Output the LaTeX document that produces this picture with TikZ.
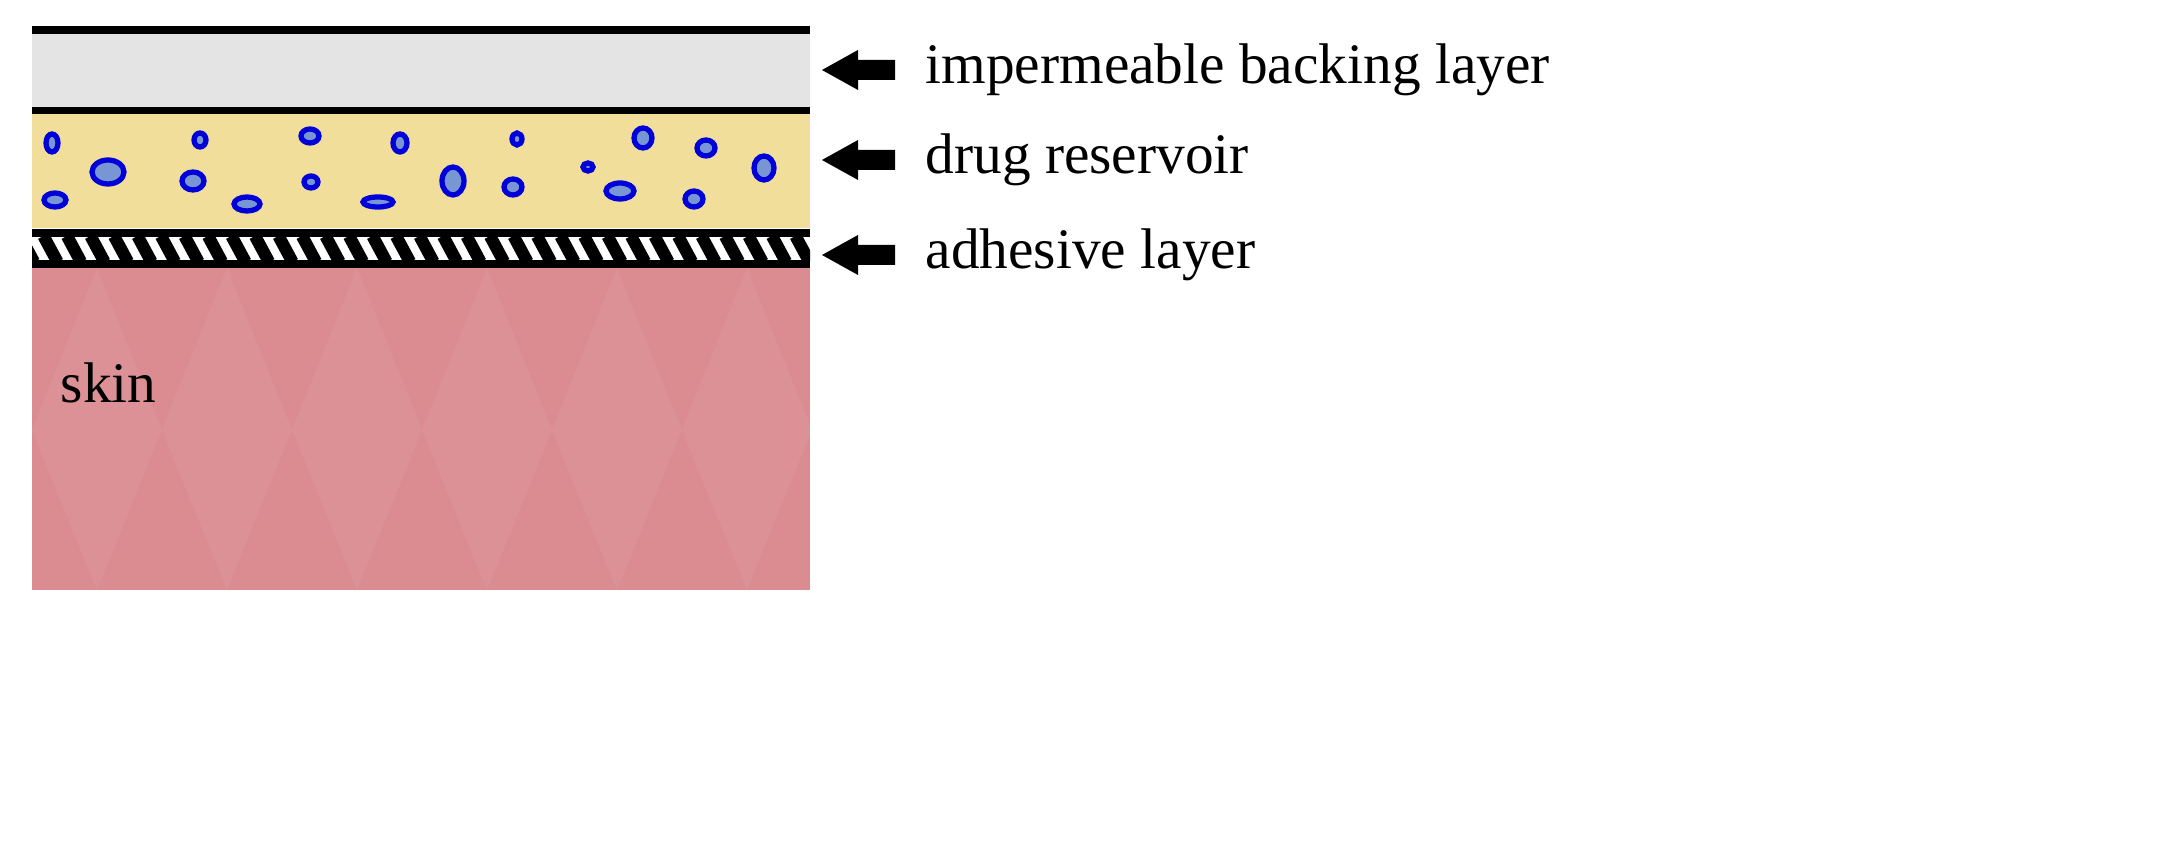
\documentclass[tikz,border=0pt]{standalone}
\usepackage{fontspec}
\setmainfont{Liberation Serif}
\definecolor{skinc}{RGB}{218,140,145}
\definecolor{resc}{RGB}{242,222,155}
\definecolor{backc}{RGB}{228,228,228}
\begin{document}
\begin{tikzpicture}[x=0.01cm,y=-0.01cm,
  drop/.style={draw=blue!85!black,line width=1.5pt,fill=cyan!40!blue!55!white},
  lbl/.style={anchor=west,font=\fontsize{16.3pt}{19pt}\selectfont,inner sep=0pt},
  blk/.style={fill=black}]
\useasboundingbox (0,0) rectangle (2179,862);
% backing
\fill[backc] (32,30) rectangle (810,110);
\draw[line width=2.5pt] (32,30) -- (810,30);
\draw[line width=2.5pt] (32,111) -- (810,111);
% reservoir
\fill[resc] (32,114) rectangle (810,228);
\foreach \x/\y/\a/\b in {52/143/6/9,108/172/16/12,200/140/6/7,193/181/11/9,55/200/11/7,247/204/13/7,310/136/9/7,311/182/7/6,400/143/7/9,378/202/15/5,453/181/11/14,517/139/5/6,513/187/9/8,588/167/5/4,643/138/9/10,620/191/14/8,706/148/9/8,694/199/9/8,764/168/10/12}
  \draw[drop] (\x,\y) ellipse [x radius=\a, y radius=\b];
% adhesive
\fill[white] (32,232) rectangle (810,265);
\begin{scope}
\clip (32,232) rectangle (810,265);
\foreach \i in {0,...,34} \draw[line width=3.5pt] ({20+\i*23.5},236) -- ({34+\i*23.5},262);
\end{scope}
\draw[line width=2.5pt] (32,233) -- (810,233);
\draw[line width=2.5pt] (32,264) -- (810,264);
% skin
\fill[skinc] (32,268) rectangle (810,590);
\begin{scope}
\clip (32,268) rectangle (810,590);
\foreach \i in {0,...,6} \fill[white,opacity=0.05] ({32+\i*130+65},268) -- ({32+\i*130+130},430) -- ({32+\i*130+65},590) -- ({32+\i*130},430) -- cycle;
\end{scope}
\node[lbl] (skin) at (60,383) {skin};
% arrows and labels
\foreach \n/\y/\t in {a/70/impermeable backing layer,b/160/drug reservoir,c/255/adhesive layer}{
  \fill (822,\y) -- (858,{\y-20}) -- (858,{\y-10}) -- (895,{\y-10}) -- (895,{\y+10}) -- (858,{\y+10}) -- (858,{\y+20}) -- cycle;
  \node[lbl] (\n) at (925,\y) {\t};
}
\end{tikzpicture}
\end{document}
